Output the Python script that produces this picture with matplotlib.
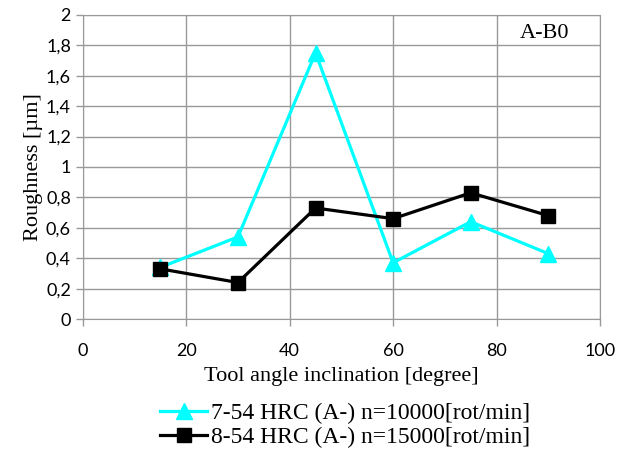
import matplotlib
matplotlib.use("Agg")
import matplotlib.pyplot as plt
from matplotlib.ticker import FuncFormatter

# tool inclination angles [degree]
angles = [15, 30, 45, 60, 75, 90]
# roughness [um]
rough_10000 = [0.34, 0.54, 1.75, 0.37, 0.64, 0.43]
rough_15000 = [0.33, 0.24, 0.73, 0.66, 0.83, 0.68]

label_10000 = "7-54 HRC (A-) n=10000[rot/min]"
label_15000 = "8-54 HRC (A-) n=15000[rot/min]"


def comma_fmt(v, pos):
    if abs(v - round(v)) < 1e-9:
        return str(int(round(v)))
    return f"{v:.1f}".replace(".", ",")


fig = plt.figure(figsize=(6.27, 4.5), dpi=100)
ax = fig.add_axes([0.132, 0.291, 0.825, 0.676])

ax.plot(angles, rough_10000, color="#00FFFF", lw=2.3, marker="^", ms=12,
        label=label_10000, zorder=3)
ax.plot(angles, rough_15000, color="black", lw=2.3, marker="s", ms=10,
        label=label_15000, zorder=4)

ax.set_xlim(0, 100)
ax.set_ylim(0, 2)
ax.set_xticks(range(0, 101, 20))
ax.set_yticks([i * 0.2 for i in range(11)])
ax.yaxis.set_major_formatter(FuncFormatter(comma_fmt))

ax.grid(True, color="#999999", lw=1)
ax.set_axisbelow(True)
for s in ax.spines.values():
    s.set_color("#999999")
ax.tick_params(axis="both", colors="#999999", labelcolor="black", labelsize=13,
               length=5, width=1)
ax.tick_params(axis="x", pad=12)
for lbl in ax.get_xticklabels() + ax.get_yticklabels():
    lbl.set_fontfamily("Lato")

ax.set_xlabel("Tool angle inclination [degree]", family="Liberation Serif",
              fontsize=16, labelpad=6)
ax.set_ylabel("Roughness [\u00b5m]", family="Liberation Serif", fontsize=16,
              labelpad=2)
ax.text(0.94, 0.94, "A-B0", transform=ax.transAxes, ha="right", va="center",
        family="Liberation Serif", fontsize=16)

fig.legend(loc="upper center", bbox_to_anchor=(0.55, 0.127), frameon=False,
           prop={"family": "Liberation Serif", "size": 17}, handlelength=2.0,
           handletextpad=0.15, labelspacing=0.12, borderaxespad=0)

fig.savefig("out.png", dpi=100)
